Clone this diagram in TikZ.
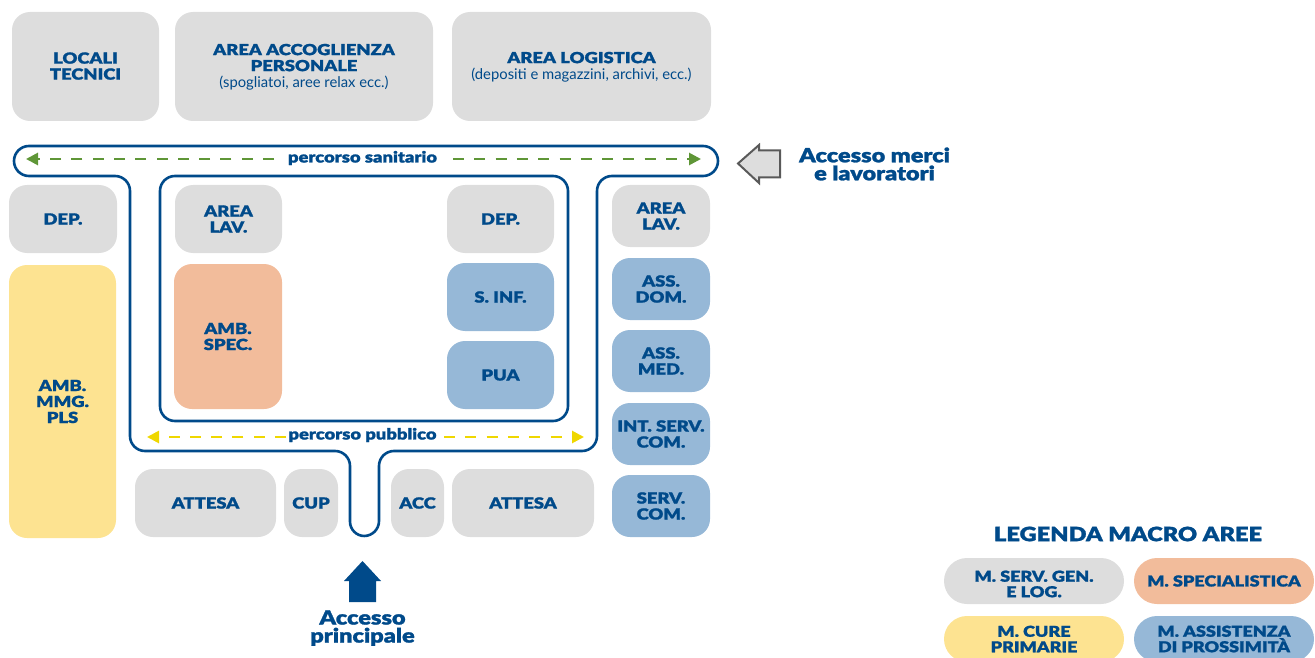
\documentclass[tikz,border=0pt]{standalone}
\usepackage{fontspec}
\setmainfont{Lato}[BoldFont={Lato Black},BoldFeatures={FakeStretch=1.2,FakeBold=1.3}]
\usetikzlibrary{arrows.meta}
\definecolor{navy}{HTML}{004A8A}
\definecolor{gr}{HTML}{DDDDDD}
\definecolor{ora}{HTML}{F2BC9B}
\definecolor{yel}{HTML}{FDE391}
\definecolor{blu}{HTML}{96B8D7}
\definecolor{grn}{HTML}{5F9637}
\definecolor{ygl}{HTML}{EFD700}
\tikzset{
  area/.style={rectangle,rounded corners=18pt,inner sep=0pt,text=navy,align=center,
    font=\fontsize{15.3}{16}\selectfont\bfseries},
  legbox/.style={area,rounded corners=23pt,font=\fontsize{15}{15.5}\selectfont\bfseries},
  wall/.style={draw=navy,line width=2.6pt,rounded corners=15pt},
  lab/.style={inner sep=0pt,text=navy,align=center,font=\fontsize{15.3}{16}\selectfont\bfseries},
  big/.style={inner sep=0pt,text=navy,align=center,font=\fontsize{19.6}{18}\selectfont\bfseries},
  dashg/.style={draw=grn,line width=2.7pt,dash pattern=on 11pt off 10.3pt,-{Triangle[length=12pt,width=12pt]}},
  dashy/.style={draw=ygl,line width=2.7pt,dash pattern=on 11pt off 10.3pt,-{Triangle[length=12pt,width=12pt]}},
}
\newcount\boxno
\newcommand\abox[7][area]{%
  \global\advance\boxno by 1
  \pgfmathsetmacro\bw{#4-#2}\pgfmathsetmacro\bh{#5-#3}%
  \pgfmathsetmacro\cx{(#2+#4)/2}\pgfmathsetmacro\cy{(#3+#5)/2}%
  \node[#1,fill=#6,minimum width=\bw pt,minimum height=\bh pt] (box\the\boxno) at (\cx,\cy) {#7};}
\newcommand\sub[1]{{\fontsize{14.8}{14}\selectfont\mdseries #1}}
\begin{document}
\begin{tikzpicture}[x=1pt,y=-1pt]
\useasboundingbox (0,0) rectangle (1315,658);
\clip (0,0) rectangle (1315,658);
% top
\abox{12}{12}{159}{121}{gr}{\raisebox{1pt}{LOCALI}\\\raisebox{1pt}{TECNICI}}
\abox{175}{12}{433}{121}{gr}{\rule{0pt}{12pt}AREA ACCOGLIENZA\\PERSONALE\\\sub{(spogliatoi, aree relax ecc.)}}
\abox{452}{12}{711}{121}{gr}{\rule{0pt}{12pt}AREA LOGISTICA\\\sub{(depositi e magazzini, archivi, ecc.)}}
% left
\abox{9}{185}{117}{253}{gr}{DEP.}
\abox{9}{265}{116}{538}{yel}{AMB.\\MMG.\\PLS}
% inner
\abox{175}{185}{282}{253}{gr}{AREA\\LAV.}
\abox{174}{264}{282}{409}{ora}{AMB.\\SPEC.}
\abox{447}{185}{554}{253}{gr}{DEP.}
\abox{447}{263}{554}{331}{blu}{S. INF.}
\abox{447}{341}{554}{409}{blu}{PUA}
% right
\abox{612}{185}{710}{247}{gr}{AREA\\LAV.}
\abox{612}{258}{710}{320}{blu}{ASS.\\DOM.}
\abox{612}{330}{710}{392}{blu}{ASS.\\MED.}
\abox{612}{403}{710}{465}{blu}{INT. SERV.\\COM.}
\abox{612}{475}{710}{537}{blu}{SERV.\\COM.}
% bottom
\abox{135}{469}{276}{537}{gr}{ATTESA}
\abox{284}{469}{338}{537}{gr}{CUP}
\abox{391}{469}{444}{537}{gr}{ACC}
\abox{452}{469}{594}{537}{gr}{ATTESA}
% walls
\draw[wall] (330,146) -- (718,146) -- (718,176) -- (597,176) -- (597,451) -- (379,451)
  -- (379,536) [rounded corners=14.4pt] -- (350,536) [rounded corners=15pt] -- (350,451) -- (130,451) -- (130,176) -- (14,176) -- (14,146) -- cycle;
\draw[wall] (160,300) -- (160,176) -- (568,176) -- (568,421) -- (160,421) -- cycle;
% corridors
\node[lab] (san) at (362.5,158) {percorso sanitario};
\node[lab] (pub) at (362.5,435) {percorso pubblico};
\coordinate (sanL) at (26,159); \coordinate (sanR) at (701,159);
\coordinate (sanLs) at (274,159); \coordinate (sanRs) at (453,159);
\coordinate (pubL) at (147,437); \coordinate (pubR) at (584,437);
\coordinate (pubLs) at (286,437); \coordinate (pubRs) at (444,437);
\draw[dashg] (sanLs) -- (sanL);
\draw[dashg] (sanRs) -- (sanR);
\draw[dashy] (pubLs) -- (pubL);
\draw[dashy] (pubRs) -- (pubR);
% access arrows
\draw[draw=black!65,fill=gr,line width=2pt,miter limit=10] (738,163.5) -- (759,145) -- (759,150.5) -- (780,150.5) -- (780,177.5) -- (759,177.5) -- (759,183) -- cycle;
\node[big] (merci) at (874.5,164) {Accesso merci\\e lavoratori};
\fill[navy] (362.5,561) -- (381,581) -- (376,581) -- (376,602) -- (349,602) -- (349,581) -- (344,581) -- cycle;
\node[big] (princ) at (362.5,628) {Accesso\\principale};
% legend
\node[inner sep=0pt,text=navy,font=\fontsize{19.7}{21}\selectfont\bfseries] (leg) at (1128,534) {LEGENDA MACRO AREE};
\abox[legbox]{944}{558}{1124}{604}{gr}{\rule{0pt}{17pt}M. SERV. GEN.\\E LOG.}
\abox[legbox]{1134}{558}{1314}{604}{ora}{M. SPECIALISTICA}
\abox[legbox]{944}{616}{1124}{662}{yel}{M. CURE\\PRIMARIE}
\abox[legbox]{1134}{616}{1314}{662}{blu}{M. ASSISTENZA\\DI PROSSIMITÀ}
\end{tikzpicture}
\end{document}
